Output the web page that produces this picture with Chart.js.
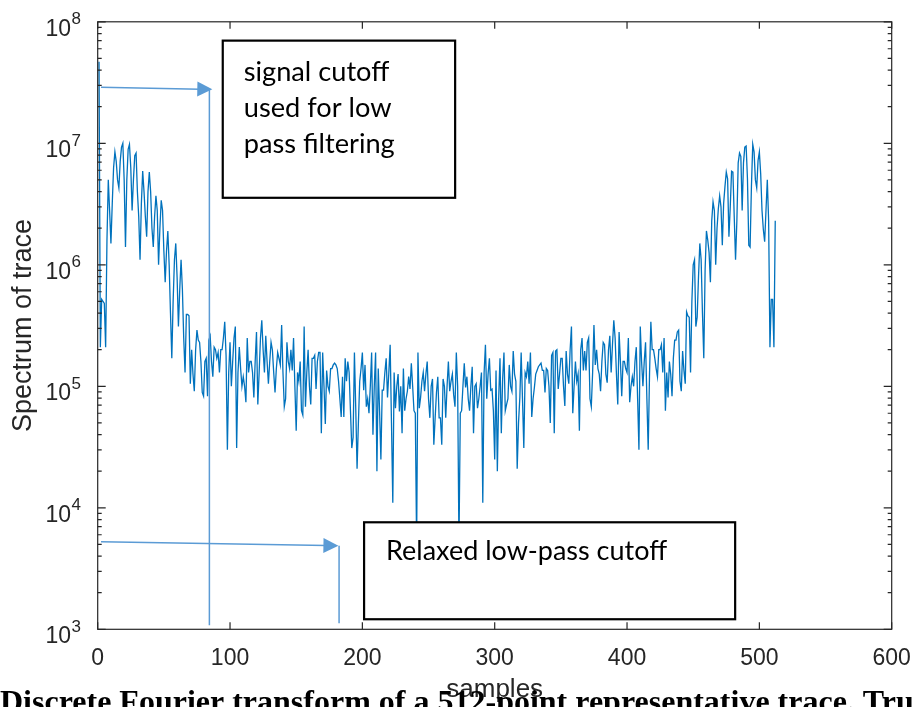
<!DOCTYPE html>
<html><head><meta charset="utf-8">
<script src="https://cdn.jsdelivr.net/npm/chart.js@4.4.1/dist/chart.umd.min.js"></script>
<style>html,body{margin:0;padding:0;background:#fff;overflow:hidden}#wrap{width:914px;height:707px;position:relative}</style>
</head><body><div id="wrap"><canvas id="c" width="914" height="707"></canvas></div>
<script>
// |FFT| of a 512-sample trace (sample 1..512)
const spectrum = [
4.7e7,2.1e5,5.2e5,5.0e5,4.8e5,2.1e5,1.6e6,5.0e6,2.8e6,1.5e6,
3.2e6,6.3e6,8.5e6,7.1e6,5.0e6,4.3e6,7.1e6,9.3e6,1.0e7,5.0e6,
1.4e6,5.0e6,8.9e6,9.8e6,6.3e6,2.8e6,5.0e6,7.9e6,8.3e6,4.0e6,
2.5e6,1.1e6,3.2e6,5.9e6,4.0e6,2.5e6,1.7e6,4.0e6,5.8e6,4.0e6,
2.0e6,1.4e6,2.5e6,3.7e6,2.8e6,1.0e6,2.0e6,3.4e6,2.8e6,1.3e6,
7.2e5,1.3e6,1.9e6,1.0e6,4.0e5,1.7e5,5.0e5,1.1e6,1.5e6,7.9e5,
3.1e5,6.3e5,1.1e6,6.3e5,2.5e5,1.3e5,3.9e5,3.9e5,3.8e5,1.05e5,
2.0e5,1.26e5,9.1e4,2.0e5,2.9e5,2.4e5,2.3e5,1.6e5,8.9e4,8.3e4,
1.6e5,1.7e5,8.3e4,2.4e5,2.6e5,1.6e5,1.2e5,2.1e5,2.0e5,1.7e5,
1.9e5,1.3e5,2.0e5,2.0e5,2.5e5,3.4e5,1.8e5,3.0e4,1.3e5,2.3e5,
1.0e5,1.6e5,2.5e5,3.1e5,3.1e4,1.3e5,2.1e5,1.4e5,1.0e5,1.2e5,
1.0e5,7.4e4,2.5e5,1.3e5,1.6e5,1.6e5,1.3e5,8.1e4,1.6e5,2.8e5,
7.1e4,1.3e5,2.5e5,3.5e5,2.0e5,1.3e5,2.6e5,1.6e5,1.05e5,1.6e5,
2.3e5,2.0e5,1.3e5,8.9e4,1.4e5,1.9e5,1.7e5,1.5e5,3.2e5,1.3e5,
6.8e4,7.9e4,2.3e5,1.6e5,1.4e5,2.0e5,1.35e5,2.5e5,1.0e5,4.3e4,
1.3e5,1.1e5,1.6e5,6.3e4,5.8e4,3.1e5,6.8e4,1.3e5,2.0e5,1.0e5,
7.1e4,1.7e5,1.7e5,1.8e5,9.5e4,1.6e5,1.9e5,1.9e5,4.1e4,1.9e5,
1.0e5,4.9e4,1.35e5,1.0e5,9.1e4,1.4e5,1.4e5,1.5e5,1.55e5,1.5e5,
1.4e5,1.1e5,7.9e4,5.6e4,1.2e5,5.6e4,1.7e5,1.1e5,1.6e5,1.3e5,
6.3e4,3.1e4,3.8e4,1.9e5,6.6e4,2.1e4,5.0e4,1.1e5,1.4e5,1.9e5,
9.3e4,1.5e5,6.8e4,7.9e4,6.0e4,1.0e5,1.9e5,4.0e4,1.0e5,1.9e5,
2.0e4,1.4e5,6.3e4,2.5e4,9.3e4,9.3e4,1.3e5,1.7e5,8.1e4,1.3e5,
2.2e5,5.0e4,1.1e4,1.3e5,6.6e4,1.0e5,1.26e5,6.2e4,1.0e5,4.1e4,
1.4e5,6.3e4,7.9e4,9.1e4,1.2e5,9.5e4,1.55e5,1.0e5,6.3e4,6.0e4,
5.0e3,1.9e5,6.6e4,8.1e4,1.1e5,1.3e5,9.1e4,1.26e5,1.6e5,7.9e4,
5.5e4,1.0e5,1.15e5,3.3e4,5.5e4,8.9e4,1.2e5,5.5e4,5.5e4,3.3e4,
1.15e5,1.0e5,5.5e4,1.0e5,1.6e5,9.1e4,1.1e5,1.26e5,8.5e4,6.8e4,
1.9e5,1.0e5,5.0e3,6.0e4,6.3e4,1.0e5,1.55e5,9.8e4,1.2e5,7.9e4,
6.3e4,1.0e5,1.45e5,4.1e4,1.0e5,1.05e5,6.6e4,7.9e4,1.0e5,1.3e5,
1.1e4,1.3e5,2.2e5,7.9e4,1.26e5,1.7e5,9.3e4,9.5e4,6.3e4,2.5e4,
1.35e5,2.0e4,7.9e4,1.7e5,4.1e4,1.15e5,1.9e5,6.3e4,7.1e4,7.9e4,
1.5e5,1.0e5,9.1e4,1.95e5,1.26e5,1.1e5,2.1e4,5.0e4,8.1e4,1.9e5,
7.9e4,3.1e4,1.3e5,1.2e5,1.6e5,1.05e5,1.9e5,5.6e4,7.9e4,9.8e4,
1.26e5,1.35e5,1.45e5,1.5e5,1.55e5,1.35e5,1.35e5,8.9e4,1.4e5,1.35e5,
1.0e5,5.0e4,1.8e5,1.9e5,4.1e4,1.95e5,2.0e5,9.5e4,1.26e5,1.7e5,
1.7e5,1.0e5,6.9e4,1.95e5,1.26e5,1.05e5,2.0e5,3.1e5,6.0e4,1.0e5,
1.6e5,1.1e5,1.26e5,4.3e4,2.0e5,2.5e5,1.35e5,1.95e5,1.35e5,2.3e5,
2.5e5,7.9e4,6.8e4,1.3e5,3.2e5,1.5e5,2.0e5,1.4e5,1.26e5,9.1e4,
1.6e5,2.3e5,2.2e5,1.26e5,1.07e5,2.0e5,2.6e5,1.3e5,2.2e5,3.5e5,
2.5e5,1.26e5,7.1e4,2.8e5,1.6e5,8.3e4,1.6e5,1.6e5,1.4e5,1.3e5,
2.5e5,7.4e4,1.0e5,1.2e5,1.0e5,1.6e5,2.1e5,7.9e4,3.0e4,3.1e5,
1.6e5,1.0e5,1.6e5,2.3e5,7.9e4,3.0e4,1.26e5,3.4e5,2.0e5,2.0e5,
1.7e5,1.4e5,1.2e5,2.0e5,2.0e5,2.2e5,1.3e5,2.5e5,6.3e4,1.3e5,
8.1e4,1.6e5,1.26e5,8.3e4,1.7e5,2.4e5,2.4e5,2.8e5,2.9e5,1.1e5,
9.1e4,1.95e5,1.35e5,1.05e5,4.1e5,3.8e5,3.7e5,1.3e5,5.0e5,1.0e6,
1.1e6,3.1e5,3.7e5,7.9e5,1.5e6,1.1e6,4.0e5,1.7e5,9.1e5,1.9e6,
1.6e6,1.26e6,7.2e5,2.3e6,3.3e6,2.8e6,1.0e6,2.0e6,2.9e6,3.7e6,
3.0e6,1.45e6,3.2e6,4.4e6,5.8e6,5.1e6,1.7e6,3.0e6,5.9e6,5.8e6,
2.5e6,1.1e6,2.3e6,6.9e6,8.3e6,7.8e6,2.8e6,6.9e6,9.3e6,9.5e6,
5.1e6,1.45e6,1.4e6,4.4e6,9.8e6,8.5e6,5.0e6,4.3e6,7.2e6,8.5e6,
5.6e6,2.8e6,1.95e6,1.55e6,2.8e6,5.0e6,2.3e6,2.1e5,5.2e5,5.2e5,
2.1e5,2.3e6
];
const sampleIndex = spectrum.map((_, k) => k + 1);
const xTicks = [0, 100, 200, 300, 400, 500, 600];
const yDecadeExponents = [3, 4, 5, 6, 7, 8];
const xTitle = 'samples';
const yTitle = 'Spectrum of trace';
const note1Lines = ['signal cutoff', 'used for low', 'pass filtering'];
const note2Text = 'Relaxed low-pass cutoff';
const captionText = 'Discrete Fourier transform of a 512-point representative trace. Truncation';
// annotation anchors in data units [sample, value]
const arrow1 = { from: [2.5, 2.89e7], to: [86.6, 2.78e7], drop: [84.4, 1.08e3] };
const arrow2 = { from: [2.5, 5.26e3], to: [181.9, 4.87e3], drop: [182.4, 1.12e3] };
const box1 = { x0: 94.5, x1: 270.1, y0: 7.0e7, y1: 3.56e6 };
const box2 = { x0: 201.3, x1: 481.7, y0: 7.6e3, y1: 1.21e3 };

const points = sampleIndex.map((x, k) => ({ x: x, y: spectrum[k] }));
const AX = '#262626';
const ANN = '#5B9BD5';

function arrowHead(c, x0, y0, x1, y1, len, half) {
  const ang = Math.atan2(y1 - y0, x1 - x0);
  c.beginPath();
  c.moveTo(x1, y1);
  c.lineTo(x1 - len * Math.cos(ang) + half * Math.sin(ang), y1 - len * Math.sin(ang) - half * Math.cos(ang));
  c.lineTo(x1 - len * Math.cos(ang) - half * Math.sin(ang), y1 - len * Math.sin(ang) + half * Math.cos(ang));
  c.closePath();
  c.fill();
}
function fitSize(c, text, family, width) {
  c.font = '100px ' + family;
  return 100 * width / c.measureText(text).width;
}

const deco = {
  id: 'deco',
  beforeDraw(chart) {
    const c = chart.ctx;
    c.save(); c.fillStyle = '#fff'; c.fillRect(0, 0, chart.width, chart.height); c.restore();
  },
  afterDraw(chart) {
    const c = chart.ctx, xs = chart.scales.x, ys = chart.scales.y, a = chart.chartArea;
    const px = v => xs.getPixelForValue(v), py = v => ys.getPixelForValue(v);
    c.save();
    // axes box
    c.strokeStyle = AX; c.lineWidth = 1.2;
    c.strokeRect(a.left, a.top, a.right - a.left, a.bottom - a.top);
    // x ticks (inward, bottom & top)
    c.beginPath();
    xTicks.forEach(t => {
      const x = px(t);
      c.moveTo(x, a.bottom); c.lineTo(x, a.bottom - 7);
      c.moveTo(x, a.top); c.lineTo(x, a.top + 7);
    });
    // y ticks (major decades + minor)
    yDecadeExponents.forEach(e => {
      const y = py(Math.pow(10, e));
      c.moveTo(a.left, y); c.lineTo(a.left + 8, y);
      c.moveTo(a.right, y); c.lineTo(a.right - 8, y);
      if (e < yDecadeExponents[yDecadeExponents.length - 1]) {
        for (let m = 2; m <= 9; m++) {
          const ym = py(m * Math.pow(10, e));
          c.moveTo(a.left, ym); c.lineTo(a.left + 4, ym);
          c.moveTo(a.right, ym); c.lineTo(a.right - 4, ym);
        }
      }
    });
    c.stroke();
    // tick labels
    c.fillStyle = AX;
    c.font = '23px "Liberation Sans"';
    c.textAlign = 'center'; c.textBaseline = 'alphabetic';
    xTicks.forEach(t => c.fillText(String(t), px(t), a.bottom + 36));
    yDecadeExponents.forEach(e => {
      const y = py(Math.pow(10, e));
      c.font = '23px "Liberation Sans"'; c.textAlign = 'right';
      c.fillText('10', 71, y + 14);
      c.font = '17px "Liberation Sans"'; c.textAlign = 'left';
      c.fillText(String(e), 71.5, y + 2.5);
    });
    // axis titles
    c.font = '26px "Liberation Sans"'; c.textAlign = 'center';
    c.fillText(xTitle, (a.left + a.right) / 2, 697);
    c.save();
    c.font = '27px "Liberation Sans"';
    c.translate(31, (a.top + a.bottom) / 2);
    c.rotate(-Math.PI / 2);
    c.fillText(yTitle, 0, 0);
    c.restore();

    // annotation arrows
    c.strokeStyle = ANN; c.fillStyle = ANN; c.lineWidth = 1.5;
    [arrow1, arrow2].forEach(ar => {
      const x0 = px(ar.from[0]), y0 = py(ar.from[1]);
      const x1 = px(ar.to[0]), y1 = py(ar.to[1]);
      const ang = Math.atan2(y1 - y0, x1 - x0);
      c.beginPath(); c.moveTo(x0, y0); c.lineTo(x1 - 12 * Math.cos(ang), y1 - 12 * Math.sin(ang)); c.stroke();
      arrowHead(c, x0, y0, x1, y1, 15, 7.5);
      c.beginPath(); c.moveTo(px(ar.drop[0]), y1); c.lineTo(px(ar.drop[0]), py(ar.drop[1])); c.stroke();
    });

    // text boxes
    const fam = '"Lato"';
    [box1, box2].forEach(b => {
      const x0 = px(b.x0), x1 = px(b.x1), y0 = py(b.y0), y1 = py(b.y1);
      c.fillStyle = '#fff'; c.fillRect(x0, y0, x1 - x0, y1 - y0);
      c.strokeStyle = '#000'; c.lineWidth = 2.2; c.strokeRect(x0, y0, x1 - x0, y1 - y0);
    });
    c.fillStyle = '#000'; c.textAlign = 'left'; c.textBaseline = 'alphabetic';
    const s1 = fitSize(c, note1Lines[2], fam, 151);
    c.font = s1.toFixed(2) + 'px ' + fam;
    const bx1 = px(box1.x0);
    [81, 117, 153].forEach((yy, i) => c.fillText(note1Lines[i], bx1 + 21, yy));
    const s2 = fitSize(c, note2Text, fam, 281);
    c.font = s2.toFixed(2) + 'px ' + fam;
    c.fillText(note2Text, px(box2.x0) + 22, 560);

    // caption (cut at page bottom)
    c.font = 'bold 32px "Liberation Serif"';
    c.fillText(captionText, 0, 712);
    c.restore();
  }
};

new Chart(document.getElementById('c').getContext('2d'), {
  type: 'line',
  data: { datasets: [{ data: points, borderColor: '#0072BD', borderWidth: 1.3, pointRadius: 0, tension: 0, fill: false }] },
  options: {
    responsive: false, animation: false, devicePixelRatio: 1,
    layout: { padding: { left: 97.7, right: 22.3, top: 21.8, bottom: 77.7 } },
    plugins: { legend: { display: false }, tooltip: { enabled: false } },
    scales: {
      x: { type: 'linear', min: 0, max: 600, display: false },
      y: { type: 'logarithmic', min: 1e3, max: 1e8, display: false }
    }
  },
  plugins: [deco]
});
</script>
</body></html>
